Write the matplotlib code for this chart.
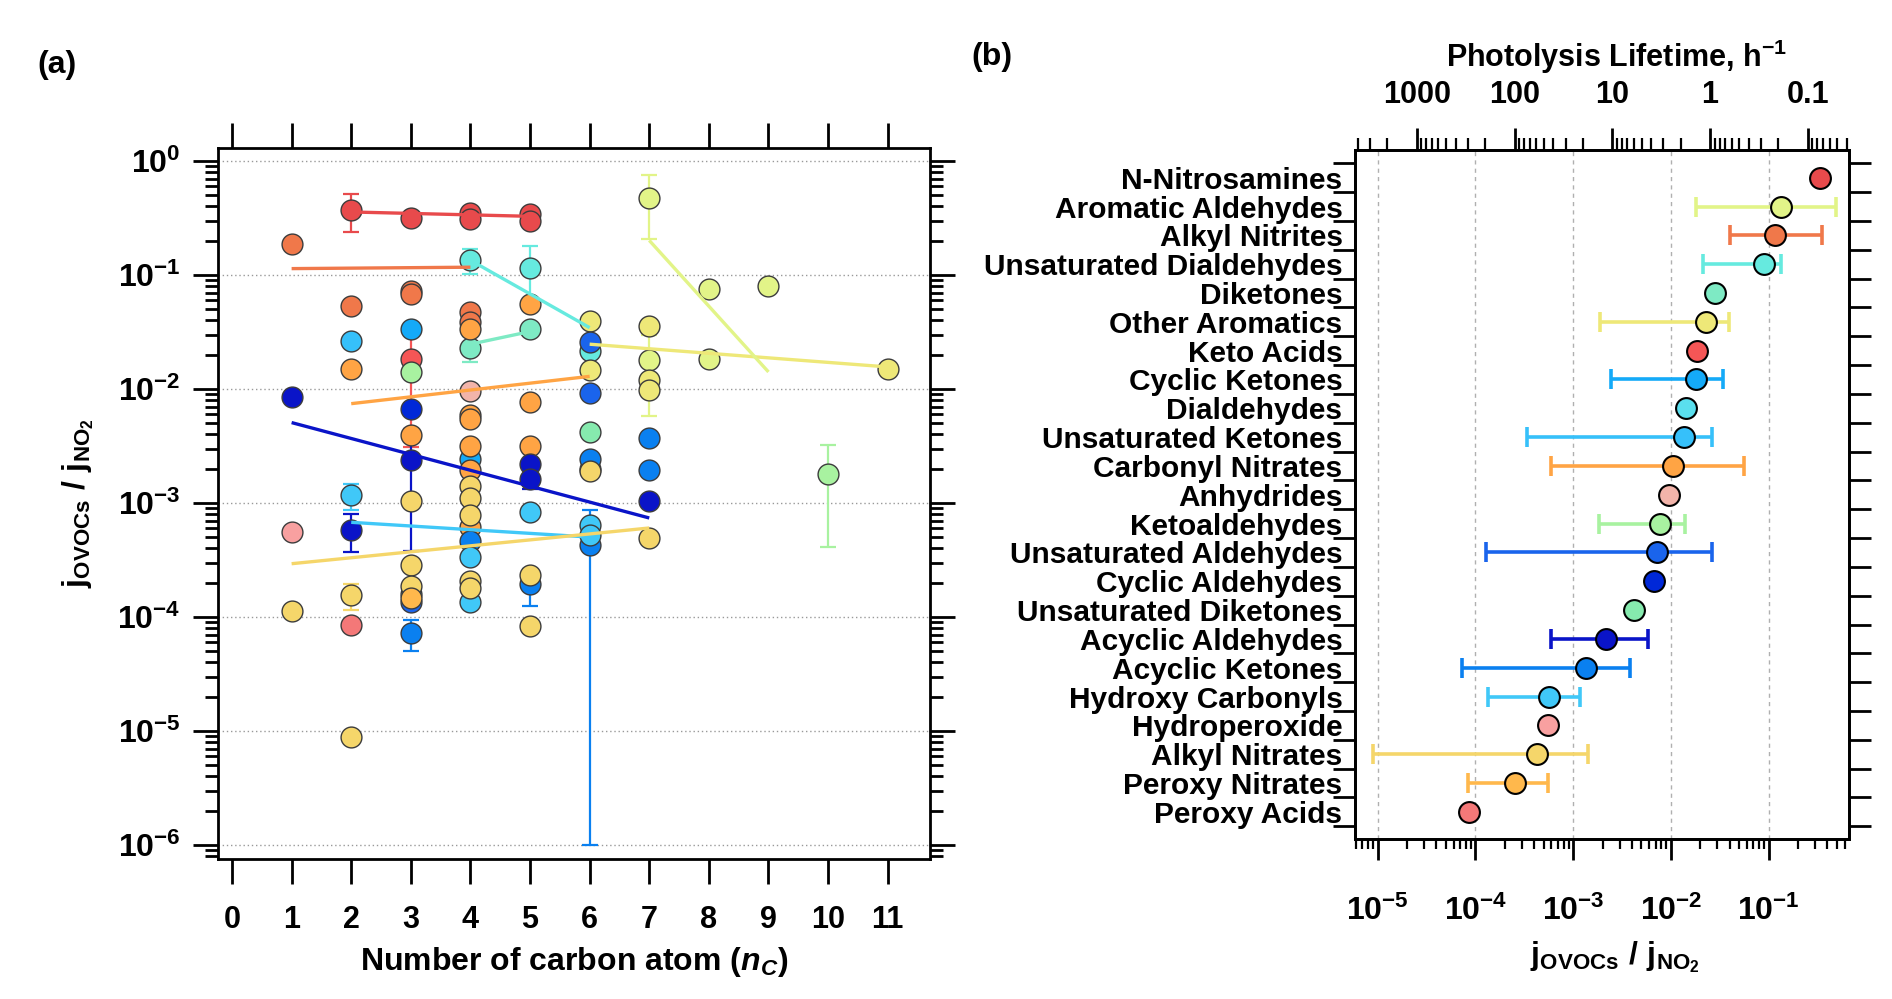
import numpy as np
import matplotlib
matplotlib.use('Agg')
import matplotlib.pyplot as plt
from matplotlib.ticker import LogLocator, NullFormatter, NullLocator

plt.rcParams['font.family'] = 'Liberation Sans'
plt.rcParams['font.weight'] = 'bold'
plt.rcParams['axes.labelweight'] = 'bold'
plt.rcParams['mathtext.fontset'] = 'custom'
plt.rcParams['mathtext.rm'] = 'Liberation Sans:bold'
plt.rcParams['mathtext.it'] = 'Liberation Sans:bold:italic'
plt.rcParams['mathtext.bf'] = 'Liberation Sans:bold'
plt.rcParams['mathtext.default'] = 'rm'

# ---- panel (b): compound classes, top to bottom ----
categories = ['N-Nitrosamines', 'Aromatic Aldehydes', 'Alkyl Nitrites',
              'Unsaturated Dialdehydes', 'Diketones', 'Other Aromatics',
              'Keto Acids', 'Cyclic Ketones', 'Dialdehydes',
              'Unsaturated Ketones', 'Carbonyl Nitrates', 'Anhydrides',
              'Ketoaldehydes', 'Unsaturated Aldehydes', 'Cyclic Aldehydes',
              'Unsaturated Diketones', 'Acyclic Aldehydes', 'Acyclic Ketones',
              'Hydroxy Carbonyls', 'Hydroperoxide', 'Alkyl Nitrates',
              'Peroxy Nitrates', 'Peroxy Acids']
cat_colors = ['#E84A4C', '#E2F488', '#F0784A', '#66EADF', '#7EEAC4', '#EEE878',
              '#F55656', '#14AAF8', '#5ADFEE', '#36C0FA', '#FFA444', '#F2B4AA',
              '#A8F2A0', '#1A64EC', '#0028D8', '#86EAAE', '#0A14C8', '#0A80F0',
              '#40C8F8', '#F8A0A0', '#F5D66A', '#FFB84C', '#F47878']
ratio_mid = [0.339, 0.135, 0.115, 0.0906, 0.0286, 0.0228, 0.0185, 0.0183,
             0.0144, 0.0135, 0.0104, 0.00955, 0.00783, 0.00719, 0.0067,
             0.0042, 0.00216, 0.00134, 5.71e-4, 5.48e-4, 4.3e-4, 2.55e-4, 8.6e-5]
ratio_lo = [np.nan, 0.018, 0.0403, 0.0215, np.nan, 0.00189, np.nan, 0.00243,
            np.nan, 3.39e-4, 5.97e-4, np.nan, 0.00182, 1.28e-4, np.nan,
            np.nan, 5.89e-4, 7.34e-5, 1.35e-4, np.nan, 9.06e-6, 8.47e-5, np.nan]
ratio_hi = [np.nan, 0.485, 0.355, 0.133, np.nan, 0.0397, np.nan, 0.0342,
            np.nan, 0.0266, 0.0561, np.nan, 0.0140, 0.0261, np.nan,
            np.nan, 0.00582, 0.00381, 0.00119, np.nan, 0.00142, 5.48e-4, np.nan]
J_NO2_PER_HOUR = 39.7   # converts the ratio into a photolysis lifetime

# ---- panel (a): individual compounds ----
pt_family = (['N-Nitrosamines'] * 6 + ['Alkyl Nitrites'] * 6
             + ['Unsaturated Dialdehydes'] * 3 + ['Diketones'] * 2
             + ['Aromatic Aldehydes'] * 5 + ['Other Aromatics'] * 6
             + ['Keto Acids'] + ['Cyclic Ketones'] * 2 + ['Unsaturated Ketones']
             + ['Carbonyl Nitrates'] * 12 + ['Anhydrides'] + ['Ketoaldehydes'] * 2
             + ['Unsaturated Aldehydes'] * 3 + ['Cyclic Aldehydes']
             + ['Unsaturated Diketones'] + ['Acyclic Aldehydes'] * 6
             + ['Acyclic Ketones'] * 7 + ['Hydroxy Carbonyls'] * 7
             + ['Hydroperoxide'] + ['Alkyl Nitrates'] * 15
             + ['Peroxy Nitrates'] + ['Peroxy Acids'])
pt_nc = ([2, 3, 4, 4, 5, 5] + [1, 2, 3, 3, 4, 4]
         + [4, 5, 6] + [4, 5]
         + [7, 7, 8, 8, 9] + [6, 6, 7, 7, 7, 11]
         + [3] + [3, 4] + [2]
         + [2, 3, 4, 4, 4, 4, 4, 4, 5, 5, 5, 6] + [4] + [3, 10]
         + [6, 6, 3] + [3]
         + [6] + [1, 2, 3, 5, 5, 7]
         + [3, 4, 5, 6, 6, 7, 7] + [3, 2, 4, 4, 5, 6, 6]
         + [1] + [1, 2, 2, 3, 3, 3, 4, 4, 4, 4, 4, 5, 5, 6, 7]
         + [3] + [2])
pt_ratio = ([0.374, 0.318, 0.350, 0.312, 0.34, 0.30]
            + [0.188, 0.053, 0.072, 0.0686, 0.0473, 0.0387]
            + [0.1346, 0.116, 0.0214] + [0.0231, 0.0336]
            + [0.476, 0.0178, 0.0759, 0.0182, 0.0806]
            + [0.0394, 0.0146, 0.0357, 0.0121, 0.0097, 0.0151]
            + [0.0185] + [0.0336, 0.00243] + [0.0264]
            + [0.0149, 0.00393, 0.0338, 0.00588, 0.0055, 0.00318, 0.00194,
               6.15e-4, 0.0553, 0.00769, 0.00318, 0.0020]
            + [0.0096] + [0.0140, 0.00181]
            + [0.0258, 0.00923, 1.34e-4] + [0.00668]
            + [0.00417] + [0.0085, 5.83e-4, 0.0024, 0.00221, 0.00163, 0.00103]
            + [7.21e-5, 4.6e-4, 1.95e-4, 0.00245, 4.31e-4, 0.00372, 0.00194]
            + [1.6e-4, 0.00117, 3.36e-4, 1.34e-4, 8.28e-4, 6.45e-4, 5.27e-4]
            + [5.52e-4]
            + [1.12e-4, 1.55e-4, 8.8e-6, 1.05e-3, 2.87e-4, 1.88e-4, 1.42e-3,
               1.11e-3, 7.9e-4, 2.08e-4, 1.79e-4, 2.34e-4, 8.26e-5, 1.9e-3, 4.93e-4]
            + [1.46e-4] + [8.53e-5])
pt_err = ([0.138, 0, 0, 0, 0, 0] + [0] * 6
          + [0.033, 0.062, 0] + [0.0058, 0]
          + [0.27, 0.012, 0, 0, 0] + [0] * 6
          + [0.0154] + [0, 0] + [0]
          + [0] * 12 + [0] + [0, 0.0014]
          + [0, 0, 0] + [0]
          + [0] + [0, 2.1e-4, 2.02e-3, 0, 3e-4, 0]
          + [2.2e-5, 0, 7e-5, 0, 4.3e-4, 0, 0]
          + [0, 3e-4, 0, 0, 0, 0, 0]
          + [0]
          + [0, 4e-5] + [0] * 13
          + [0] + [0])

# straight fits per family (end points)
fit_family = ['N-Nitrosamines', 'Alkyl Nitrites', 'Unsaturated Dialdehydes',
              'Diketones', 'Carbonyl Nitrates', 'Acyclic Aldehydes',
              'Other Aromatics', 'Aromatic Aldehydes', 'Hydroxy Carbonyls',
              'Alkyl Nitrates']
fit_nc0 = [2, 1, 4, 4, 2, 1, 6, 7, 2, 1]
fit_nc1 = [5, 4, 6, 5, 6, 7, 11, 9, 6, 7]
fit_r0 = [0.357, 0.1137, 0.1346, 0.0247, 0.00743, 0.00507, 0.0247, 0.201, 6.76e-4, 2.93e-4]
fit_r1 = [0.327, 0.117, 0.0345, 0.0319, 0.0129, 7.38e-4, 0.0156, 0.0141, 5.02e-4, 6.03e-4]

color_of = dict(zip(categories, cat_colors))

fig = plt.figure(figsize=(18.92, 9.99), dpi=100)

# ================= panel (a) =================
ax = fig.add_axes([218 / 1892, 140 / 999, 712 / 1892, 711 / 999])
ax.set_yscale('log')

for fam, n, r, e in zip(pt_family, pt_nc, pt_ratio, pt_err):
    c = color_of[fam]
    if e > 0:
        ax.errorbar(n, r, yerr=e, fmt='none', ecolor=c, elinewidth=1.6,
                    capsize=5.5, capthick=1.6, zorder=2)
    ax.plot(n, r, 'o', ms=15, mfc=c, mec='#3C3C3C', mew=1.0, zorder=3)

for fam, x0, x1, y0, y1 in zip(fit_family, fit_nc0, fit_nc1, fit_r0, fit_r1):
    ax.plot([x0, x1], [y0, y1], '-', color=color_of[fam], lw=2.4,
            solid_capstyle='butt', zorder=4)

ax.set_xlim(-0.235, 11.71)
ax.set_ylim(7.52e-7, 1.30)
ax.set_xticks(range(12))
ax.xaxis.set_minor_locator(NullLocator())
ax.set_yticks([10.0 ** k for k in range(-6, 1)])
ax.set_yticklabels([f'$10^{{{k}}}$' for k in range(-6, 1)])
ax.yaxis.set_minor_locator(LogLocator(base=10, subs=np.arange(2, 10), numticks=30))
ax.yaxis.set_minor_formatter(NullFormatter())
ax.grid(axis='y', which='major', linestyle=(0, (1, 2)), color='#999999', lw=1.0)
ax.tick_params(axis='both', which='both', direction='out', top=True, right=True, width=2)
ax.tick_params(axis='x', which='major', length=18, labelsize=22, pad=15)
ax.tick_params(axis='y', which='major', length=18, labelsize=23, pad=9)
ax.tick_params(axis='y', which='minor', length=9.5, width=2)
for s in ax.spines.values():
    s.set_linewidth(2)

ax.set_xlabel(r'Number of carbon atom ($\mathit{n_C}$)', fontsize=23)
ax.xaxis.set_label_coords(0.5, -0.121)
ax.set_ylabel(r'$j_{OVOCs}\ /\ j_{NO_2}$', fontsize=23)
ax.yaxis.set_label_coords(-0.172, 0.5)

# ================= panel (b) =================
bx = fig.add_axes([1355 / 1892, 160 / 999, 494 / 1892, 689 / 999])
bx.set_xscale('log')
ypos = np.arange(len(categories))[::-1]

for y, c, m, lo, hi in zip(ypos, cat_colors, ratio_mid, ratio_lo, ratio_hi):
    if not np.isnan(lo):
        bx.errorbar(m, y, xerr=[[m - lo], [hi - m]], fmt='none', ecolor=c,
                    elinewidth=2.6, capsize=7.5, capthick=2.6, zorder=2)
    bx.plot(m, y, 'o', ms=15, mfc=c, mec='black', mew=1.5, zorder=3)

xmin, xmax = 10 ** -5.231, 10 ** -0.1775
bx.set_xlim(xmin, xmax)
bx.set_ylim(-0.94, 22.96)
bx.set_xticks([10.0 ** k for k in range(-5, 0)])
bx.set_xticklabels([f'$10^{{{k}}}$' for k in range(-5, 0)])
bx.xaxis.set_minor_locator(LogLocator(base=10, subs=np.arange(2, 10), numticks=30))
bx.xaxis.set_minor_formatter(NullFormatter())
bx.set_yticks(ypos)
bx.set_yticklabels(categories, fontsize=21.5)
bx.set_yticks(np.arange(-0.5, len(categories)), minor=True)
bx.grid(axis='x', which='major', linestyle=(0, (3, 3)), color='#B0B0B0', lw=1.0)
bx.tick_params(axis='y', which='major', length=0, pad=9)
bx.tick_params(axis='y', which='minor', direction='out', length=16, width=2, right=True)
bx.tick_params(axis='x', which='major', direction='out', length=15, width=2,
               labelsize=23, pad=26)
bx.tick_params(axis='x', which='minor', direction='out', length=7.5, width=1.6)
for s in bx.spines.values():
    s.set_linewidth(2)
bx.set_xlabel(r'$j_{OVOCs}\ /\ j_{NO_2}$', fontsize=23)
bx.xaxis.set_label_coords(0.526, -0.145)

# lifetime axis on top
tx = bx.twiny()
tx.set_xscale('log')
tx.set_xlim(1 / (J_NO2_PER_HOUR * xmin), 1 / (J_NO2_PER_HOUR * xmax))
life_ticks = [1000, 100, 10, 1, 0.1]
tx.set_xticks(life_ticks)
tx.set_xticklabels(['1000', '100', '10', '1', '0.1'])
tx.xaxis.set_minor_locator(LogLocator(base=10, subs=np.arange(2, 10), numticks=30))
tx.xaxis.set_minor_formatter(NullFormatter())
tx.tick_params(axis='x', which='major', direction='out', length=16, width=2,
               labelsize=22, pad=13)
tx.tick_params(axis='x', which='minor', direction='out', length=8.5, width=1.6)
tx.set_xlabel(r'Photolysis Lifetime, $h^{-1}$', fontsize=22)
tx.xaxis.set_label_coords(0.53, 1.12)
for s in tx.spines.values():
    s.set_linewidth(2)

fig.text(57 / 1892, 1 - 65 / 999, '(a)', fontsize=23, ha='center', va='center')
fig.text(992 / 1892, 1 - 57 / 999, '(b)', fontsize=23, ha='center', va='center')

fig.savefig('out.png', dpi=100)
